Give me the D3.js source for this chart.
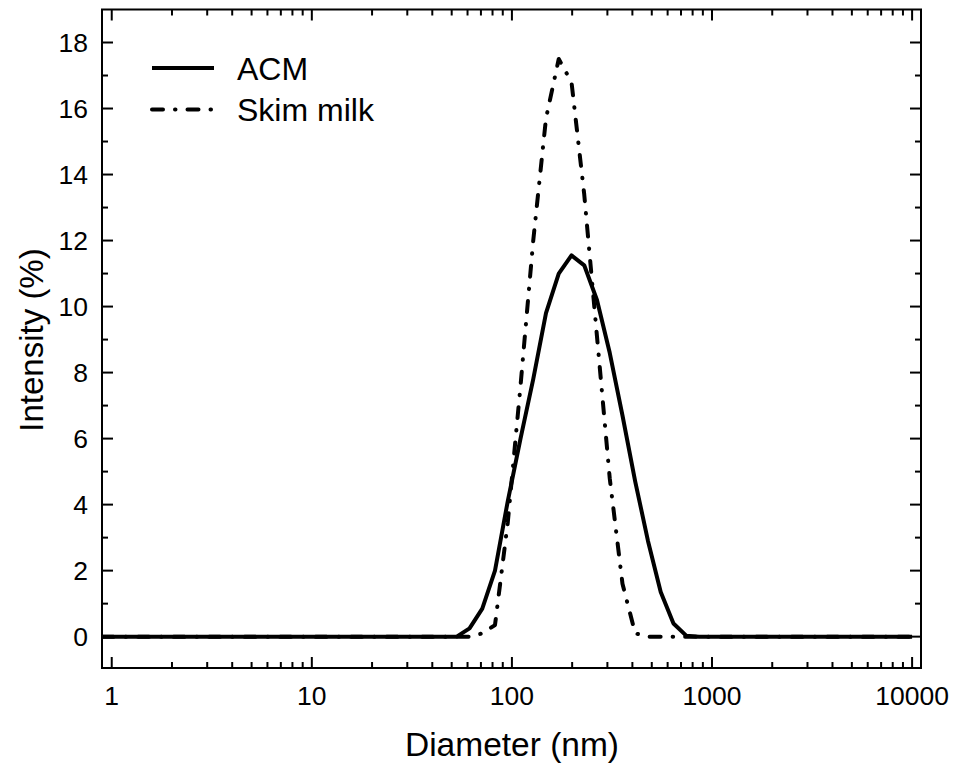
<!DOCTYPE html>
<html>
<head>
<meta charset="utf-8">
<script src="https://cdn.jsdelivr.net/npm/d3@7"></script>
<style>
  body { margin: 0; background: #fff; }
  text { font-family: "Liberation Sans", Arial, sans-serif; fill: #000; }
</style>
</head>
<body>
<svg width="954" height="766"></svg>
<script>
// diameters (nm), one per size bin
const diameter = [0.9, 53, 61.4, 71.1, 82.3, 95.3, 110.4, 127.8, 148, 171.4, 198.5, 229.8, 266.1, 308.2, 356.9, 413.3, 478.6, 554.2, 641.8, 743.2, 860.6, 10000];
const acm  = [0, 0, 0.25, 0.85, 2.0, 4.1, 6.0, 7.8, 9.8, 11.0, 11.55, 11.25, 10.2, 8.6, 6.7, 4.7, 2.9, 1.35, 0.4, 0.03, 0, 0];
const skim = [0, 0, 0, 0.1, 0.35, 3.45, 7.6, 12.0, 15.7, 17.5, 16.8, 13.4, 9.1, 4.8, 1.6, 0.1, 0, 0, 0, 0, 0, 0];

const seriesNames = ["ACM", "Skim milk"];
const xTickValues = [1, 10, 100, 1000, 10000];
const yTickValues = [0, 2, 4, 6, 8, 10, 12, 14, 16, 18];

const svg = d3.select("svg");
const pLeft = 102, pRight = 921, pTop = 9.5, pBottom = 668;

const x = d3.scaleLog().domain([0.894, 11078]).range([pLeft, pRight]);
const y = d3.scaleLinear().domain([-0.95, 19]).range([pBottom, pTop]);

svg.append("defs").append("clipPath").attr("id", "plot")
  .append("rect")
  .attr("x", pLeft).attr("y", pTop)
  .attr("width", pRight - pLeft).attr("height", pBottom - pTop);

const line = d3.line()
  .x(d => x(d[0]))
  .y(d => y(d[1]));

const plot = svg.append("g").attr("clip-path", "url(#plot)");

plot.append("path")
  .datum(diameter.map((d, i) => [d, acm[i]]))
  .attr("d", line)
  .attr("fill", "none")
  .attr("stroke", "#000")
  .attr("stroke-width", 4)
  .attr("stroke-linejoin", "round");

const dashDot = "11,12,0.5,12";

plot.append("path")
  .datum(diameter.map((d, i) => [d, skim[i]]))
  .attr("d", line)
  .attr("fill", "none")
  .attr("stroke", "#000")
  .attr("stroke-width", 4)
  .attr("stroke-linecap", "round")
  .attr("stroke-linejoin", "round")
  .attr("stroke-dasharray", dashDot);

// ticks, inward on all four sides
const majorLen = 11, minorLen = 6;
const minorX = [];
for (let p = 1; p <= 1000; p *= 10) {
  for (let k = 2; k <= 9; k++) minorX.push(k * p);
}
const minorY = d3.range(1, 19, 2);

const ticks = svg.append("g").attr("stroke", "#000").attr("stroke-width", 2);

xTickValues.forEach(v => {
  ticks.append("line").attr("x1", x(v)).attr("x2", x(v)).attr("y1", pBottom).attr("y2", pBottom - majorLen);
  ticks.append("line").attr("x1", x(v)).attr("x2", x(v)).attr("y1", pTop).attr("y2", pTop + majorLen);
});
minorX.forEach(v => {
  ticks.append("line").attr("x1", x(v)).attr("x2", x(v)).attr("y1", pBottom).attr("y2", pBottom - minorLen);
  ticks.append("line").attr("x1", x(v)).attr("x2", x(v)).attr("y1", pTop).attr("y2", pTop + minorLen);
});
yTickValues.forEach(v => {
  ticks.append("line").attr("x1", pLeft).attr("x2", pLeft + majorLen).attr("y1", y(v)).attr("y2", y(v));
  ticks.append("line").attr("x1", pRight).attr("x2", pRight - majorLen).attr("y1", y(v)).attr("y2", y(v));
});
minorY.forEach(v => {
  ticks.append("line").attr("x1", pLeft).attr("x2", pLeft + minorLen).attr("y1", y(v)).attr("y2", y(v));
  ticks.append("line").attr("x1", pRight).attr("x2", pRight - minorLen).attr("y1", y(v)).attr("y2", y(v));
});

// frame
svg.append("rect")
  .attr("x", pLeft).attr("y", pTop)
  .attr("width", pRight - pLeft).attr("height", pBottom - pTop)
  .attr("fill", "none").attr("stroke", "#000").attr("stroke-width", 2);

// tick labels
svg.append("g").selectAll("text")
  .data(xTickValues)
  .join("text")
  .attr("x", d => x(d))
  .attr("y", 705)
  .attr("text-anchor", "middle")
  .attr("font-size", 26.5)
  .text(d => d);

svg.append("g").selectAll("text")
  .data(yTickValues)
  .join("text")
  .attr("x", 88)
  .attr("y", d => y(d))
  .attr("dy", "0.36em")
  .attr("text-anchor", "end")
  .attr("font-size", 26.5)
  .text(d => d);

// axis titles
svg.append("text")
  .attr("x", 512)
  .attr("y", 756)
  .attr("text-anchor", "middle")
  .attr("font-size", 33.5)
  .text("Diameter (nm)");

svg.append("text")
  .attr("transform", "translate(43,340) rotate(-90)")
  .attr("text-anchor", "middle")
  .attr("font-size", 33)
  .text("Intensity (%)");

// legend
const legend = svg.append("g");
legend.append("line")
  .attr("x1", 152).attr("x2", 214).attr("y1", 68).attr("y2", 68)
  .attr("stroke", "#000").attr("stroke-width", 4);
legend.append("line")
  .attr("x1", 152).attr("x2", 214).attr("y1", 109.5).attr("y2", 109.5)
  .attr("stroke", "#000").attr("stroke-width", 4)
  .attr("stroke-linecap", "round")
  .attr("stroke-dasharray", dashDot);
legend.selectAll("text")
  .data(seriesNames)
  .join("text")
  .attr("x", 237)
  .attr("y", (d, i) => 80 + i * 41)
  .attr("font-size", 32)
  .text(d => d);
</script>
</body>
</html>
